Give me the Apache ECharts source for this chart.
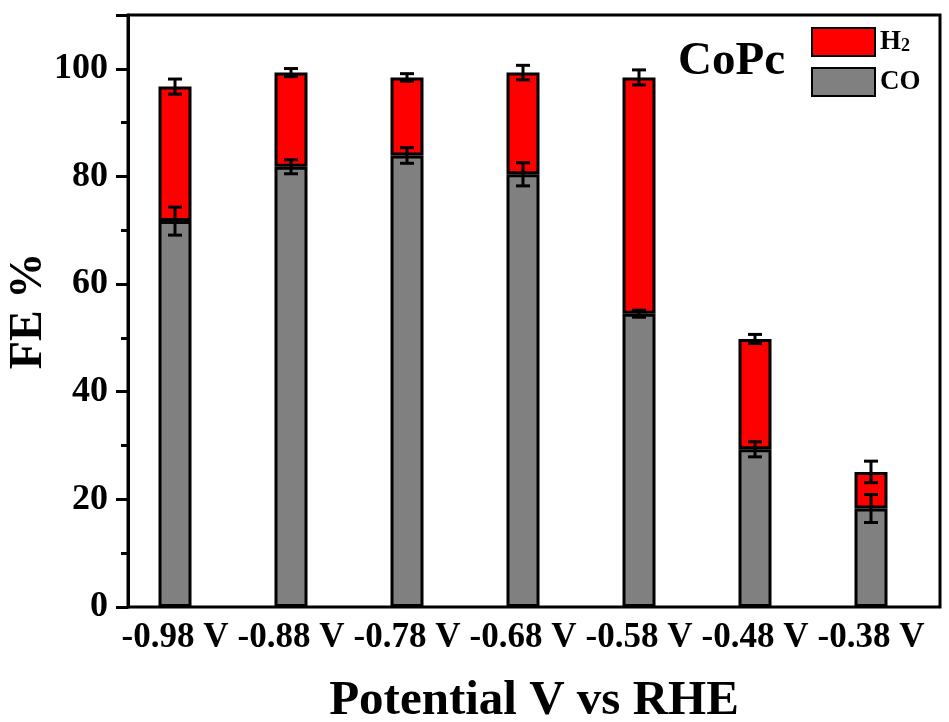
<!DOCTYPE html>
<html>
<head>
<meta charset="utf-8">
<script src="https://cdn.jsdelivr.net/npm/echarts@6/dist/echarts.min.js"></script>
<style>
html,body{margin:0;padding:0;background:#fff;}
#chart{width:949px;height:722px;}
</style>
</head>
<body>
<div id="chart"></div>
<script>
// Data
var categories = ['-0.98 V', '-0.88 V', '-0.78 V', '-0.68 V', '-0.58 V', '-0.48 V', '-0.38 V'];
var coValues = [71.7, 81.8, 83.9, 80.4, 54.5, 29.3, 18.3];
var totalValues = [96.7, 99.3, 98.4, 99.3, 98.4, 49.8, 25.1];
var coErr = [2.6, 1.3, 1.45, 2.15, 0.65, 1.4, 2.6];
var totalErr = [1.4, 0.75, 0.7, 1.35, 1.4, 0.85, 2.0];
var yTicks = [0, 20, 40, 60, 80, 100];

var h2Values = totalValues.map(function (t, i) { return +(t - coValues[i]).toFixed(2); });

var FONT = "'Liberation Serif', 'Times New Roman', serif";

var errData = [];
categories.forEach(function (c, i) {
  errData.push([i, coValues[i] - coErr[i], coValues[i] + coErr[i]]);
  errData.push([i, totalValues[i] - totalErr[i], totalValues[i] + totalErr[i]]);
});

function renderErr(params, api) {
  var x = api.value(0);
  var lo = api.coord([x, api.value(1)]);
  var hi = api.coord([x, api.value(2)]);
  var cap = 7;
  var st = { stroke: '#000', lineWidth: 3 };
  return {
    type: 'group',
    children: [
      { type: 'line', shape: { x1: lo[0], y1: lo[1], x2: hi[0], y2: hi[1] }, style: st },
      { type: 'line', shape: { x1: lo[0] - cap, y1: lo[1], x2: lo[0] + cap, y2: lo[1] }, style: st },
      { type: 'line', shape: { x1: hi[0] - cap, y1: hi[1], x2: hi[0] + cap, y2: hi[1] }, style: st }
    ]
  };
}

var chart = echarts.init(document.getElementById('chart'), null, { renderer: 'canvas' });
chart.setOption({
  backgroundColor: '#fff',
  animation: false,
  textStyle: { fontFamily: FONT, fontWeight: 'bold', color: '#000' },
  title: {
    text: 'CoPc',
    left: 673, top: 33,
    textStyle: { fontFamily: FONT, fontWeight: 'bold', fontSize: 47, color: '#000' }
  },
  legend: {
    orient: 'vertical',
    left: 806, top: 22,
    icon: 'rect',
    itemWidth: 63, itemHeight: 28, itemGap: 10,
    data: ['H2', 'CO'],
    formatter: function (n) { return n === 'H2' ? 'H{s|2}' : n; },
    textStyle: {
      fontFamily: FONT, fontWeight: 'bold', fontSize: 27, color: '#000',
      rich: { s: { fontFamily: FONT, fontWeight: 'bold', fontSize: 18, color: '#000', verticalAlign: 'bottom', padding: [8, 0, 0, 0] } }
    }
  },
  grid: [
    { left: 117, right: 20, top: 15, bottom: 115, containLabel: false, outerBoundsMode: 'none' },
    { left: 128, right: 9, top: 15, bottom: 115, containLabel: false, outerBoundsMode: 'none', show: true, borderColor: '#000', borderWidth: 3, backgroundColor: 'transparent' }
  ],
  xAxis: [
    {
      type: 'category', gridIndex: 0, data: categories,
      axisLine: { show: false }, axisTick: { show: false },
      axisLabel: { fontFamily: FONT, fontWeight: 'bold', fontSize: 35, color: '#000', margin: 13, interval: 0 }
    },
    {
      type: 'value', gridIndex: 1, min: 0, max: 1,
      axisLine: { show: false }, axisTick: { show: false }, axisLabel: { show: false }, splitLine: { show: false },
      name: 'Potential V vs RHE', nameLocation: 'middle', nameGap: 94, nameMoveOverlap: false,
      nameTextStyle: { fontFamily: FONT, fontWeight: 'bold', fontSize: 49, color: '#000', verticalAlign: 'middle', align: 'center' }
    }
  ],
  yAxis: [
    { type: 'value', gridIndex: 0, min: 0, max: 110, show: false },
    {
      type: 'value', gridIndex: 1, min: 0, max: 110, interval: 20,
      axisLine: { show: true, lineStyle: { color: '#000', width: 3 } },
      axisTick: { show: true, inside: false, length: 12, lineStyle: { color: '#000', width: 3 } },
      minorTick: { show: true, splitNumber: 2, length: 7, lineStyle: { color: '#000', width: 3 } },
      splitLine: { show: false },
      axisLabel: {
        fontFamily: FONT, fontWeight: 'bold', fontSize: 36, color: '#000', margin: 20,
        formatter: function (v) { return yTicks.indexOf(v) >= 0 ? String(v) : ''; }
      },
      name: 'FE %', nameLocation: 'middle', nameGap: 99, nameRotate: 90, nameMoveOverlap: false,
      nameTextStyle: { fontFamily: FONT, fontWeight: 'bold', fontSize: 46, color: '#000', verticalAlign: 'middle', align: 'center' }
    }
  ],
  series: [
    {
      name: 'CO', type: 'bar', stack: 'fe', xAxisIndex: 0, yAxisIndex: 0,
      data: coValues, barWidth: 33,
      itemStyle: { color: '#808080', borderColor: '#000', borderWidth: 3 }
    },
    {
      name: 'H2', type: 'bar', stack: 'fe', xAxisIndex: 0, yAxisIndex: 0,
      data: h2Values, barWidth: 33,
      itemStyle: { color: '#ff0000', borderColor: '#000', borderWidth: 3 }
    },
    {
      name: 'err', type: 'custom', xAxisIndex: 0, yAxisIndex: 0,
      data: errData, renderItem: renderErr, z: 10, silent: true
    }
  ]
});
</script>
</body>
</html>
